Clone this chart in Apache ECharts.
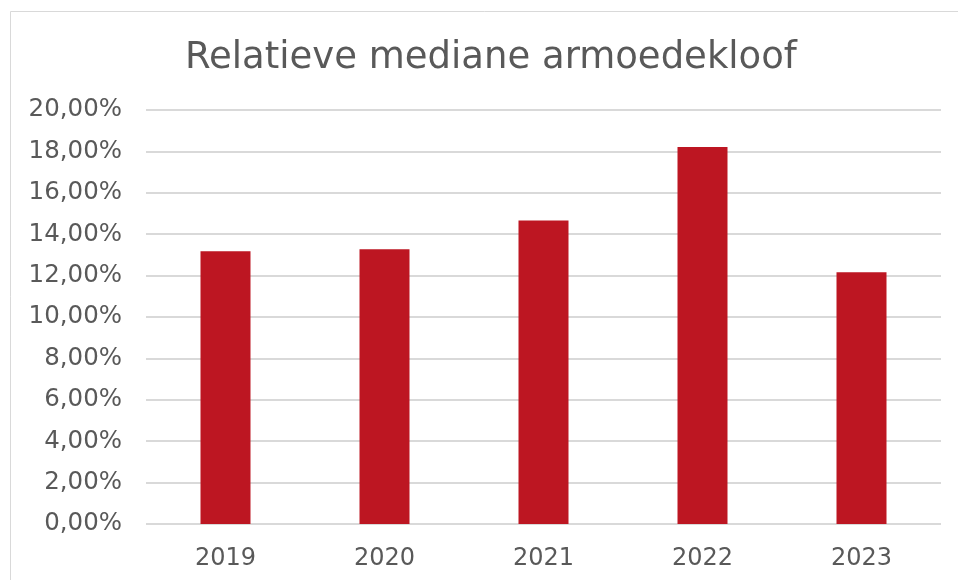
<!DOCTYPE html>
<html>
<head>
<meta charset="utf-8">
<script src="https://cdn.jsdelivr.net/npm/echarts@6/dist/echarts.min.js"></script>
<style>
html,body{margin:0;padding:0;background:#fff;}
#chart{width:958px;height:580px;}
</style>
</head>
<body>
<div id="chart"></div>
<script>
const title = 'Relatieve mediane armoedekloof';
const categories = ['2019', '2020', '2021', '2022', '2023'];
const values = [13.18, 13.27, 14.66, 18.21, 12.16];
const yMin = 0, yMax = 20, yInterval = 2;

const chart = echarts.init(document.getElementById('chart'), null, {renderer: 'canvas'});
chart.setOption({
  animation: false,
  backgroundColor: '#ffffff',
  textStyle: {fontFamily: 'DejaVu Sans'},
  title: {
    text: title,
    left: 185,
    top: 40,
    padding: 0,
    textStyle: {fontFamily: 'DejaVu Sans', fontSize: 37, fontWeight: 'normal', color: '#595959'}
  },
  graphic: [{
    type: 'rect',
    shape: {x: 10.5, y: 11.5, width: 1000, height: 700},
    style: {fill: 'none', stroke: '#d9d9d9', lineWidth: 1},
    silent: true
  }],
  grid: {left: 146, right: 17, top: 110, bottom: 56, containLabel: false},
  xAxis: {
    type: 'category',
    data: categories,
    axisLine: {show: false},
    axisTick: {show: false},
    axisLabel: {fontFamily: 'DejaVu Sans', fontSize: 24, color: '#595959', margin: 23}
  },
  yAxis: {
    type: 'value',
    min: yMin, max: yMax, interval: yInterval,
    axisLine: {show: false},
    axisTick: {show: false},
    splitLine: {lineStyle: {color: '#d9d9d9', width: 2}},
    axisLabel: {
      fontFamily: 'DejaVu Sans', fontSize: 24.5, color: '#595959', margin: 24,
      formatter: v => v.toFixed(2).replace('.', ',') + '%'
    }
  },
  series: [{
    type: 'bar',
    data: values,
    barWidth: 50,
    itemStyle: {color: '#BD1622'}
  }]
});
</script>
</body>
</html>
